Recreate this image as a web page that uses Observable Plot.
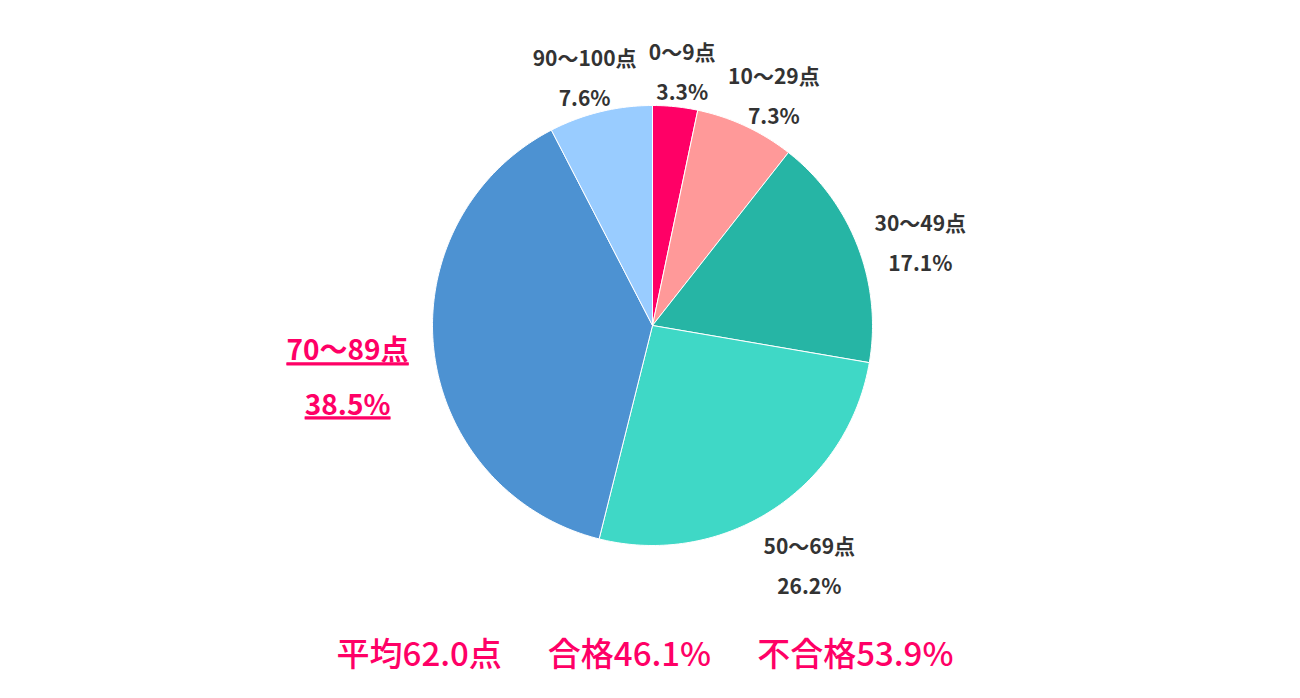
<!DOCTYPE html>
<html>
<head>
<meta charset="utf-8">
<script src="https://cdn.jsdelivr.net/npm/d3@7"></script>
<script src="https://cdn.jsdelivr.net/npm/@observablehq/plot@0.6"></script>
<style>
  body { margin: 0; background: #fff; font-family: "Noto Sans CJK JP", "Noto Sans", sans-serif; }
  #chart { width: 1300px; }
  .hl text, .hl tspan, g[aria-label="highlight"] text { text-decoration: underline; text-decoration-thickness: 2px; text-underline-offset: 6px; }
  #summary { text-align: center; color: #ff0066; font-size: 33px; font-weight: 500; margin-top: 23px; line-height: 1.2; padding-right: 10px; white-space: nowrap; }
  #summary span { margin: 0 23px; }
</style>
</head>
<body>
<div id="chart"></div>
<div id="summary"><span>平均62.0点</span><span>合格46.1%</span><span>不合格53.9%</span></div>
<script>
const categories = ["0〜9点", "10〜29点", "30〜49点", "50〜69点", "70〜89点", "90〜100点"];
const percents = [3.3, 7.3, 17.1, 26.2, 38.5, 7.6];
const colors = ["#ff0066", "#ff9999", "#26b5a5", "#3fd8c6", "#4d92d2", "#99ccff"];
const highlighted = "70〜89点";

const R = 220;
const total = d3.sum(percents);
const slices = [];
let acc = 0;
categories.forEach((c, i) => {
  const a0 = acc / total * 2 * Math.PI;
  acc += percents[i];
  const a1 = acc / total * 2 * Math.PI;
  slices.push({key: c, a0, a1, value: percents[i]});
});

const polyPoints = [];
for (const s of slices) {
  polyPoints.push({key: s.key, x: 0, y: 0});
  const n = Math.max(2, Math.ceil((s.a1 - s.a0) / (Math.PI / 180)));
  for (let k = 0; k <= n; k++) {
    const a = s.a0 + (s.a1 - s.a0) * k / n;
    polyPoints.push({key: s.key, x: R * Math.sin(a), y: R * Math.cos(a)});
  }
  polyPoints.push({key: s.key, x: 0, y: 0});
}

const labels = slices.map(s => {
  const m = (s.a0 + s.a1) / 2;
  const ux = Math.sin(m), uy = Math.cos(m);
  const big = s.key === highlighted;
  const hw = big ? 75 : 55, hh = big ? 50 : 38;
  const rr = R + 12;
  return {
    key: s.key,
    text: `${s.key}\n${s.value.toFixed(1)}%`,
    x: rr * ux + hw * ux,
    y: rr * uy + hh * uy,
    big
  };
});

const chart = Plot.plot({
  width: 1300,
  height: 610,
  margin: 0,
  x: {domain: [-652, 648], axis: null},
  y: {domain: [-285, 325], axis: null},
  color: {domain: categories, range: colors},
  marks: [
    Plot.line(polyPoints, {x: "x", y: "y", z: "key", fill: "key", stroke: "white", strokeWidth: 1, curve: "linear-closed"}),
    Plot.text(labels.filter(d => !d.big), {x: "x", y: "y", dy: 10, text: "text", fill: "#333", fontSize: 21, fontWeight: "bold", lineHeight: 1.9, fontFamily: "Noto Sans CJK JP"}),
    Plot.text(labels.filter(d => d.big), {x: "x", y: "y", dy: 12, text: "text", fill: "#ff0066", fontSize: 28, fontWeight: "bold", lineHeight: 1.93, fontFamily: "Noto Sans CJK JP", ariaLabel: "highlight", className: "hl"})
  ]
});
document.getElementById("chart").appendChild(chart);
</script>
</body>
</html>
